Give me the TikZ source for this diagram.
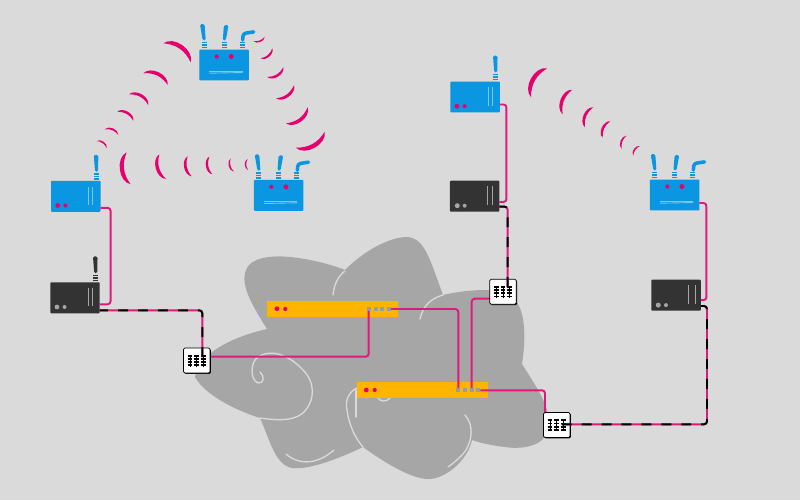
\documentclass[tikz,border=0pt]{standalone}
\usetikzlibrary{calc,shadows}
\definecolor{paperC}{RGB}{218,218,218}
\definecolor{cloudC}{RGB}{166,166,166}
\definecolor{swirlC}{RGB}{218,218,218}
\definecolor{blueC}{RGB}{10,150,224}
\definecolor{blueL}{RGB}{125,196,238}
\definecolor{darkC}{RGB}{51,51,51}
\definecolor{darkL}{RGB}{165,165,165}
\definecolor{wireC}{RGB}{222,26,124}
\definecolor{dotC}{RGB}{230,0,110}
\definecolor{barC}{RGB}{255,180,0}
\definecolor{portC}{RGB}{150,156,170}

% tapered antenna: colour, top point, foot point
\newcommand{\mast}[5]{
  \fill[#1, rounded corners=0.9pt] (#2-2.3,#3) -- (#2+2.3,#3) -- (#4+1.5,#5) -- (#4-1.5,#5) -- cycle;
}
% one antenna: body node, colour of body, of its lines, of its dots
\newcommand{\oneant}[4]{
  \begin{scope}[shift={(#1.north west)}]
    \mast{#2}{45}{-26}{45.5}{-9}
    \foreach \ys in {-7,-4.5,-2} \draw[#2, line width=0.8pt] (43,\ys) -- (48,\ys);
    \draw[#3, line width=0.5pt] (37.7,5.7) -- (37.7,24);
    \draw[#3, line width=0.5pt] (41.7,5.7) -- (41.7,24);
    \fill[#4] (6.7,24.7) circle (2.4);
    \fill[#4] (14.3,24.7) circle (2);
  \end{scope}
}
% three antennas, the right one bent
\newcommand{\threeant}[1]{
  \begin{scope}[shift={(#1.north west)}]
    \mast{blueC}{3}{-25.5}{5}{-9}
    \mast{blueC}{27}{-24.5}{25}{-9}
    \draw[blueC, line width=2pt, line cap=round, rounded corners=1.5pt] (54.5,-17.6) -- (44,-16) -- (43.4,-9.5);
    \foreach \xs in {5,25,43}
      \foreach \ys in {-7,-4.5,-2} \draw[blueC, line width=0.8pt] (\xs-2.5,\ys) -- (\xs+2.5,\ys);
    \fill[dotC] (17.4,7) circle (2.1);
    \fill[dotC] (32,7) circle (2.5);
    \draw[blueL, line width=0.5pt] (10,21.7) -- (43.4,21.7);
    \draw[blueL, line width=0.5pt] (10,23.7) -- (43.4,23);
  \end{scope}
}
% dashed cable: pink below, black dashes above
\newcommand{\tailwire}[1]{
  \draw[wire] #1;
  \draw[tail] #1;
}

\begin{document}
\begin{tikzpicture}[
  x=0.02cm, y=-0.02cm,
  blueb/.style={fill=blueC, rounded corners=0.5pt, inner sep=0pt, outer sep=0pt, minimum width=0.99cm, minimum height=0.62cm},
  darkb/.style={blueb, fill=darkC},
  yellowbar/.style={fill=barC, inner sep=0pt, outer sep=0pt, minimum width=2.62cm, minimum height=0.332cm},
  portb/.style={fill=portC, inner sep=0pt, outer sep=0pt, minimum size=0.085cm},
  netsw/.style={draw=black, line width=0.4pt, fill=white, rounded corners=0.8pt, inner sep=0pt, outer sep=0pt,
                minimum width=0.53cm, minimum height=0.5cm,
                drop shadow={shadow xshift=0.5pt, shadow yshift=-0.5pt, opacity=1, fill=black}},
  wire/.style={draw=wireC, line width=1.1pt, rounded corners=1.7pt},
  tail/.style={draw=black, line width=1.1pt, rounded corners=1.7pt, dash pattern=on 5.67pt off 5.67pt},
  swirl/.style={draw=swirlC, line width=0.75pt, line cap=round},
  wave/.style={fill=dotC},
]
\fill[paperC] (0,0) rectangle (800,500);
\useasboundingbox (0,0) rectangle (800,500);

% cloud
\fill[cloudC] (267,329) .. controls (252,305) and (240,285) .. (246,270)
  .. controls (250,258) and (270,255) .. (290,257) .. controls (310,259) and (330,264) .. (345,270)
  .. controls (365,250) and (390,237) .. (407,237) .. controls (425,238) and (430,260) .. (443,295)
  .. controls (465,290) and (490,288) .. (505,293) .. controls (525,300) and (527,330) .. (522,364)
  .. controls (535,385) and (550,405) .. (549,425) .. controls (548,445) and (525,450) .. (505,447)
  .. controls (495,446) and (480,443) .. (472,440) .. controls (468,460) and (445,480) .. (427,479)
  .. controls (410,478) and (385,463) .. (363,447) .. controls (340,458) and (310,470) .. (292,468)
  .. controls (275,465) and (270,440) .. (260,418) .. controls (235,410) and (205,395) .. (195,377)
  .. controls (200,350) and (240,335) .. (267,329) -- cycle;
\draw[swirl] (333,295) .. controls (334,285) and (338,276) .. (345,271);
\draw[swirl] (420,319) .. controls (423,305) and (432,298) .. (443,295);
\draw[swirl] (260,372) .. controls (265,376) and (264,384) .. (258,383) .. controls (250,380) and (250,362) .. (258,357)
  .. controls (272,348) and (290,356) .. (303,370) .. controls (315,382) and (316,400) .. (303,413)
  .. controls (292,422) and (275,420) .. (260,418);
\draw[swirl] (357,388) .. controls (348,392) and (345,402) .. (347,410) .. controls (349,425) and (355,438) .. (363,447);
\draw[swirl] (356,390) -- (356,417);
\draw[swirl] (378,398) .. controls (380,402) and (387,402) .. (390,398);
\draw[swirl] (465,415) .. controls (474,425) and (472,440) .. (466,450) .. controls (462,456) and (455,462) .. (448,467);
\draw[swirl] (286,454) .. controls (300,466) and (318,464) .. (334,450);

% devices
\node[blueb] (da) at (75.8,196.3) {};
\node[darkb] (ba) at (75,297.8) {};
\node[blueb] (dc) at (224,65) {};
\node[blueb] (db) at (278.7,195.3) {};
\node[blueb] (de) at (475,97) {};
\node[darkb] (bf) at (474.7,196.2) {};
\node[blueb] (dd) at (674.7,195) {};
\node[darkb] (bg) at (676,295.2) {};
\oneant{da}{blueC}{blueL}{dotC}
\oneant{de}{blueC}{blueL}{dotC}
\oneant{ba}{darkC}{darkL}{darkL}
\threeant{dc}
\threeant{db}
\threeant{dd}
\begin{scope}[shift={(bf.north west)}]
  \draw[darkL, line width=0.5pt] (37.7,5.7) -- (37.7,24);
  \draw[darkL, line width=0.5pt] (42.3,5.7) -- (42.3,24);
  \fill[darkL] (7.3,25) circle (2.5);
  \fill[darkL] (14.7,25) circle (2);
\end{scope}
\begin{scope}[shift={(bg.north west)}]
  \draw[darkL, line width=0.5pt] (37,5.7) -- (37,24);
  \draw[darkL, line width=0.5pt] (43.7,5.7) -- (43.7,24);
  \fill[darkL] (7,25.4) circle (2.5);
  \fill[darkL] (14.7,25.4) circle (2);
\end{scope}

% bars
\node[yellowbar] (bara) at (332.8,309) {};
\node[yellowbar] (barb) at (422.2,390) {};
\foreach \xd/\yd/\rd in {277/308.7/2.4,285.3/309/2.1,366.3/390/2.4,374.7/390/2.1}
  \fill[dotC] (\xd,\yd) circle (\rd);

% wireless
\foreach \ax/\ay/\bx/\by in {
  163.3/43.3/190.7/62.3, 143.3/73.3/167.7/85, 129/94.3/148.3/105,
  117.3/111.7/133.3/120.7, 104.7/129.3/118.3/135, 96.7/141/106.7/148.3,
  264.7/36.7/253.3/41, 272.3/48.3/260.7/58.3, 283.3/67.3/267.3/77,
  294/85/276/98.3, 307.7/107.3/286/123.3, 324.7/131.7/295.7/147.7,
  130.7/184.3/126.7/152.3, 166/179/159.3/154.3, 191.7/176.3/187.7/156.3,
  212.3/174.3/209.3/156.7, 234/171.7/230.7/158.3, 248/170/247.7/159,
  531/97.3/547.3/68.3, 562.7/114.3/572.3/89.7, 585/127.3/593.3/107.3,
  602.7/137.7/610.3/121.3, 621.7/149/626.7/135.7, 633.3/155.7/640/146}
  \fill[wave] (\ax,\ay) to[bend left=72] (\bx,\by) to[bend right=30] (\ax,\ay);

% ports
\node[portb] (pa1) at (368.7,309) {};
\node[portb] (pa2) at (375.7,309) {};
\node[portb] (pa3) at (382,309) {};
\node[portb] (pa4) at (389,309) {};
\node[portb] (pb1) at (458.3,390.3) {};
\node[portb] (pb2) at (465,390.3) {};
\node[portb] (pb3) at (471.7,390.3) {};
\node[portb] (pb4) at (478.3,390.3) {};

% wires
\draw[wire] ($(da.south east)+(0,-4)$) -- ++(10,0) |- ($(ba.south east)+(0,-9)$);
\draw[wire] ($(de.south east)+(0,-8)$) -- ++(6.7,0) |- ($(bf.south east)+(0,-9.7)$);
\draw[wire] ($(dd.south east)+(0,-7.5)$) -- ++(7,0) |- ($(bg.south east)+(0,-10.5)$);
\coordinate (swa) at (196.7,360.5);
\coordinate (swb) at (503,291.8);
\coordinate (swc) at (556.7,425);
\draw[wire] (swa) ++(0,-3.8) -| (pa1);
\draw[wire] (pa4) -| (pb1);
\draw[wire] (swb) ++(0,6.9) -| (pb3);
\draw[wire] (pb4) -| ($(swc)+(-11.7,0)$);

% switches
\node[netsw] (sw1) at (swa) {};
\node[netsw] (sw2) at (swb) {};
\node[netsw] (sw3) at (swc) {};
\foreach \sn in {sw1,sw2,sw3}
  \foreach \xs in {-6.7,0,6.7} {
    \draw[black, line width=0.5pt] ($(\sn)+(\xs,-6)$) -- ($(\sn)+(\xs,6)$);
    \foreach \ys in {-4.6,-1.5,1.6,4.7}
      \draw[black, line width=1.1pt] ($(\sn)+(\xs-2.3,\ys)$) -- ($(\sn)+(\xs+2.3,\ys)$);
  }

\tailwire{($(sw1)+(5.6,-3.5)$) |- ($(ba.south east)+(0,-3)$)}
\tailwire{($(sw2)+(4.7,-4.8)$) |- ($(bf.south east)+(0,-5)$)}
\tailwire{($(sw3)+(5,-0.7)$) -- ++(145.3,0) |- ($(bg.south east)+(0,-4.7)$)}

\end{tikzpicture}
\end{document}
